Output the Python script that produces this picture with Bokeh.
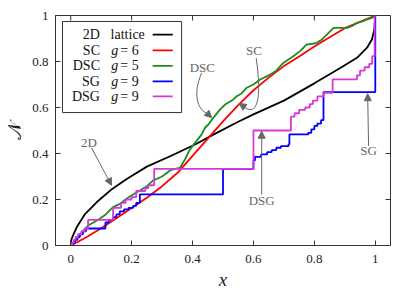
from bokeh.plotting import figure
from bokeh.models import Range1d, Arrow, NormalHead, FixedTicker
from bokeh.core.properties import value
from bokeh.embed import file_html
from bokeh.resources import INLINE

# ---------------- data ----------------
lat_x = [0, 0.002, 0.008, 0.02, 0.046, 0.085, 0.135, 0.185, 0.25, 0.33, 0.41, 0.47, 0.545, 0.6, 0.7, 0.8, 0.885, 0.94, 0.973, 0.989, 0.997, 1.0]
lat_y = [0, 0.025, 0.045, 0.08, 0.135, 0.188, 0.245, 0.29, 0.343, 0.39, 0.44, 0.483, 0.535, 0.57, 0.63, 0.705, 0.772, 0.816, 0.86, 0.896, 0.94, 1.0]

sc_x = [0, 0.05, 0.1, 0.15, 0.2, 0.25, 0.3, 0.35, 0.4, 0.45, 0.5, 0.55, 0.6, 0.65, 0.7, 0.75, 0.8, 0.85, 0.9, 0.95, 1.0]
sc_y = [0, 0.035, 0.075, 0.118, 0.163, 0.208, 0.258, 0.315, 0.39, 0.465, 0.54, 0.61, 0.675, 0.73, 0.78, 0.822, 0.865, 0.905, 0.945, 0.972, 1.0]

dsc_x = [0, 0.02, 0.04, 0.057, 0.075, 0.095, 0.115, 0.139, 0.16, 0.183, 0.205, 0.227, 0.25, 0.271, 0.3, 0.326, 0.342, 0.359, 0.375, 0.391, 0.408, 0.43, 0.441, 0.452, 0.468, 0.49, 0.507, 0.534, 0.545, 0.56, 0.578, 0.6, 0.622, 0.655, 0.675, 0.698, 0.731, 0.753, 0.775, 0.79, 0.808, 0.825, 0.841, 0.863, 0.88, 0.907, 0.925, 0.94, 0.96, 0.973, 0.99, 1.0]
dsc_y = [0, 0.03, 0.062, 0.087, 0.1, 0.116, 0.135, 0.167, 0.18, 0.203, 0.222, 0.239, 0.258, 0.283, 0.3, 0.326, 0.333, 0.338, 0.374, 0.417, 0.446, 0.483, 0.512, 0.526, 0.555, 0.591, 0.613, 0.635, 0.649, 0.66, 0.686, 0.7, 0.722, 0.743, 0.76, 0.794, 0.823, 0.845, 0.874, 0.876, 0.881, 0.896, 0.917, 0.946, 0.946, 0.946, 0.955, 0.968, 0.975, 0.983, 0.99, 1.0]

sg_x = [0, 0.006, 0.006, 0.014, 0.014, 0.022, 0.022, 0.03, 0.03, 0.04, 0.04, 0.05, 0.05, 0.114, 0.114, 0.125, 0.125, 0.139, 0.139, 0.15, 0.15, 0.161, 0.161, 0.175, 0.175, 0.19, 0.19, 0.205, 0.205, 0.215, 0.215, 0.227, 0.227, 0.5, 0.5, 0.6, 0.6, 0.605, 0.605, 0.625, 0.625, 0.645, 0.645, 0.66, 0.66, 0.675, 0.675, 0.69, 0.69, 0.715, 0.715, 0.718, 0.718, 0.78, 0.78, 0.79, 0.79, 0.8, 0.8, 0.81, 0.81, 0.822, 0.822, 0.83, 0.83, 1.0, 1.0]
sg_y = [0, 0, 0.012, 0.012, 0.025, 0.025, 0.037, 0.037, 0.049, 0.049, 0.062, 0.062, 0.074, 0.074, 0.1, 0.1, 0.111, 0.111, 0.123, 0.123, 0.135, 0.135, 0.148, 0.148, 0.157, 0.157, 0.164, 0.164, 0.172, 0.172, 0.185, 0.185, 0.222, 0.222, 0.333, 0.333, 0.37, 0.37, 0.385, 0.385, 0.396, 0.396, 0.406, 0.406, 0.415, 0.415, 0.425, 0.425, 0.432, 0.432, 0.44, 0.44, 0.483, 0.483, 0.49, 0.49, 0.505, 0.505, 0.52, 0.52, 0.53, 0.53, 0.545, 0.545, 0.667, 0.667, 1.0]

dsg_x = [0, 0.004, 0.004, 0.01, 0.01, 0.016, 0.016, 0.024, 0.024, 0.035, 0.035, 0.046, 0.046, 0.057, 0.057, 0.139, 0.139, 0.165, 0.165, 0.18, 0.18, 0.2, 0.2, 0.215, 0.215, 0.245, 0.245, 0.255, 0.255, 0.274, 0.274, 0.6, 0.6, 0.723, 0.723, 0.735, 0.735, 0.75, 0.75, 0.77, 0.77, 0.785, 0.785, 0.795, 0.795, 0.81, 0.81, 0.83, 0.83, 0.86, 0.86, 0.94, 0.94, 0.95, 0.95, 0.965, 0.965, 0.98, 0.98, 0.99, 0.99, 0.998, 0.998]
dsg_y = [0, 0, 0.012, 0.012, 0.025, 0.025, 0.037, 0.037, 0.049, 0.049, 0.062, 0.062, 0.074, 0.074, 0.111, 0.111, 0.164, 0.164, 0.185, 0.185, 0.2, 0.2, 0.21, 0.21, 0.237, 0.237, 0.25, 0.25, 0.262, 0.262, 0.333, 0.333, 0.5, 0.5, 0.56, 0.56, 0.575, 0.575, 0.59, 0.59, 0.6, 0.6, 0.615, 0.615, 0.63, 0.63, 0.648, 0.648, 0.664, 0.664, 0.722, 0.722, 0.74, 0.74, 0.76, 0.76, 0.775, 0.775, 0.79, 0.79, 0.823, 0.823, 1.0]

ticks = [0, 0.2, 0.4, 0.6, 0.8, 1]
tick_labels = {0: "0", 0.2: "0.2", 0.4: "0.4", 0.6: "0.6", 0.8: "0.8", 1: "1"}

leg_names = ["2D", "SC", "DSC", "SG", "DSG"]
leg_params = ["lattice", "= 6", "= 5", "= 9", "= 9"]
leg_colors = ["#000000", "#ff0000", "#1e8c1e", "#0000ff", "#d838d8"]
leg_y = [0.917, 0.848, 0.781, 0.714, 0.648]

SERIF = "Liberation Serif"
GRAY = "#666666"
AXC = "#333333"

X0, X1, Y0, Y1 = -0.05, 1.05, 0.0, 1.0
FW, FH = 335, 230

p = figure(frame_width=FW, frame_height=FH, output_backend="svg", toolbar_location=None,
           x_range=Range1d(X0, X1), y_range=Range1d(Y0, Y1),
           min_border_left=55, min_border_right=16, min_border_top=15, min_border_bottom=44)
p.grid.visible = False
p.outline_line_color = AXC
p.outline_line_width = 1

for ax in (p.xaxis[0], p.yaxis[0]):
    ax.ticker = FixedTicker(ticks=ticks)
    ax.major_label_overrides = tick_labels
    ax.major_tick_in = 5
    ax.major_tick_out = 0
    ax.minor_tick_line_color = None
    ax.major_label_text_font = SERIF
    ax.major_label_text_font_size = "13px"
    ax.major_label_text_color = "#222222"
    ax.axis_line_color = AXC
    ax.major_tick_line_color = AXC
    ax.axis_label_text_font = SERIF
    ax.axis_label_text_color = "#222222"
p.xaxis[0].axis_label = "x"
p.xaxis[0].axis_label_text_font_style = "italic"
p.xaxis[0].axis_label_text_font_size = "19px"
p.xaxis[0].major_label_standoff = 9
p.xaxis[0].axis_label_standoff = 3
p.yaxis[0].axis_label = "𝒩"
p.yaxis[0].axis_label_text_font_style = "normal"
p.yaxis[0].axis_label_text_font_size = "19px"
p.yaxis[0].major_label_standoff = 7
p.yaxis[0].axis_label_standoff = 4

# mirror ticks on top and right (tick length 5 px converted to data units)
tx = 5 * (X1 - X0) / FW
ty = 5 * (Y1 - Y0) / FH
p.segment(x0=ticks, y0=[Y1] * len(ticks), x1=ticks, y1=[Y1 - ty] * len(ticks), line_color=AXC, line_width=1)
p.segment(x0=[X1] * len(ticks), y0=ticks, x1=[X1 - tx] * len(ticks), y1=ticks, line_color=AXC, line_width=1)

# curves
p.line(lat_x, lat_y, line_color=leg_colors[0], line_width=1.8)
p.line(sc_x, sc_y, line_color=leg_colors[1], line_width=1.8)
p.line(dsc_x, dsc_y, line_color=leg_colors[2], line_width=1.8)
p.line(sg_x, sg_y, line_color=leg_colors[3], line_width=1.8)
p.line(dsg_x, dsg_y, line_color=leg_colors[4], line_width=1.8)

# legend
p.quad(left=[-0.027], right=[0.364], top=[0.974], bottom=[0.578],
       fill_color="white", line_color=AXC, line_width=1)
p.text(x=[0.096] * 5, y=leg_y, text=leg_names, text_align="right", text_baseline="middle",
       text_font=value(SERIF), text_font_size="14px", text_color="#111111")
p.text(x=[0.131], y=[leg_y[0]], text=[leg_params[0]], text_align="left", text_baseline="middle",
       text_font=value(SERIF), text_font_size="14px", text_color="#111111")
p.text(x=[0.133] * 4, y=leg_y[1:], text=["g"] * 4, text_align="left", text_baseline="middle",
       text_font=value(SERIF), text_font_style="italic", text_font_size="14px", text_color="#111111")
p.text(x=[0.163] * 4, y=leg_y[1:], text=leg_params[1:], text_align="left", text_baseline="middle",
       text_font=value(SERIF), text_font_size="14px", text_color="#111111")
p.segment(x0=[0.269] * 5, y0=leg_y, x1=[0.335] * 5, y1=leg_y, line_color=leg_colors, line_width=1.8)

# annotations
ann_text = ["2D", "DSC", "SC", "DSG", "SG"]
ann_x = [0.06, 0.432, 0.602, 0.627, 0.978]
ann_y = [0.447, 0.774, 0.846, 0.197, 0.413]
p.text(x=ann_x, y=ann_y, text=ann_text, text_align="center", text_baseline="middle",
       text_font=value(SERIF), text_font_size="13px", text_color=GRAY)

def head():
    return NormalHead(size=7, fill_color=GRAY, line_color=GRAY)

p.add_layout(Arrow(end=head(), x_start=0.068, y_start=0.425, x_end=0.134, y_end=0.262,
                   line_color=GRAY, line_width=1))
p.add_layout(Arrow(end=head(), x_start=0.627, y_start=0.222, x_end=0.627, y_end=0.497,
                   line_color=GRAY, line_width=1))
p.add_layout(Arrow(end=head(), x_start=0.978, y_start=0.433, x_end=0.975, y_end=0.66,
                   line_color=GRAY, line_width=1))
# curved arrows
p.bezier(x0=[0.43, 0.609], y0=[0.75, 0.815], x1=[0.45, 0.575], y1=[0.572, 0.597],
         cx0=[0.40, 0.622], cy0=[0.66, 0.70], cx1=[0.415, 0.625], cy1=[0.59, 0.56],
         line_color=GRAY, line_width=1)
p.add_layout(Arrow(end=head(), x_start=0.449, y_start=0.573, x_end=0.463, y_end=0.556,
                   line_color=GRAY, line_width=1))
p.add_layout(Arrow(end=head(), x_start=0.576, y_start=0.597, x_end=0.553, y_end=0.618,
                   line_color=GRAY, line_width=1))

open("out.html", "w").write(file_html(p, INLINE))
